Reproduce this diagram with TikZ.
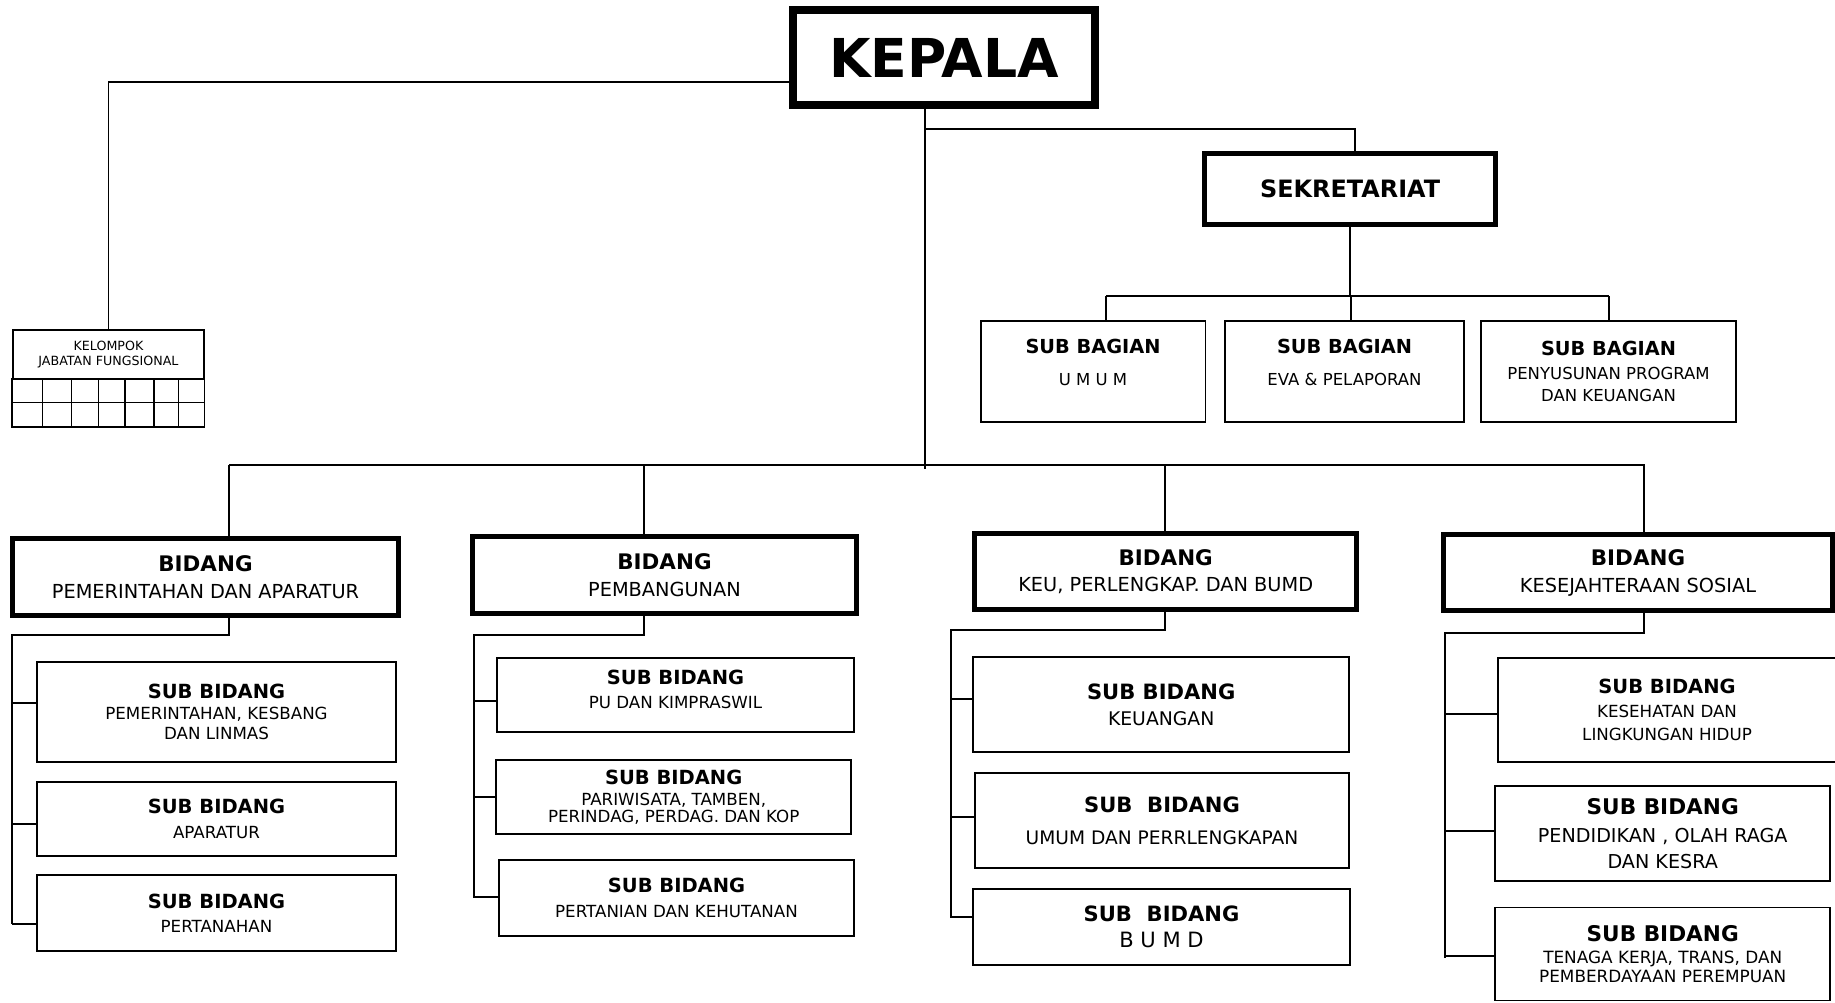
\documentclass[tikz,border=0pt]{standalone}
\usepackage{fontspec}
\setmainfont{DejaVu Sans}
\newcommand\judul[2][11.1]{{\fontsize{#1}{10}\selectfont\bfseries #2}}
\newcommand\ukuran[1]{\fontsize{#1}{10}\selectfont}
\begin{document}
\begin{tikzpicture}[x=0.02cm,y=-0.02cm,
  garis/.style={line width=1.05pt},
  kepalabox/.style={draw,line width=4.5pt,inner sep=0pt,minimum width=6.04cm,minimum height=1.906cm,font=\fontsize{30.5}{36}\selectfont\bfseries},
  sekbox/.style={draw,line width=3pt,inner sep=0pt,minimum width=5.828cm,minimum height=1.426cm,font=\fontsize{13.6}{16}\selectfont\bfseries},
  bidbox/.style={draw,line width=2.85pt,inner sep=0pt,align=center,font=\ukuran{11}},
  subbox/.style={draw,line width=1.1pt,inner sep=0pt,align=center,font=\ukuran{9.5}},
  jfbox/.style={draw,line width=0.9pt,inner sep=0pt,align=center,font=\fontsize{7.2}{8.5}\selectfont}]
\useasboundingbox (0,0) rectangle (1835,1002);
% pimpinan
\node[kepalabox] (kepala) at (944,57.7) {KEPALA};
\node[jfbox,minimum width=3.832cm,minimum height=0.966cm] (jf) at (108.5,354.2) {KELOMPOK\\JABATAN FUNGSIONAL};
\draw[jfbox] (jf.south west) rectangle (204.3,426.7);
\draw[jfbox] (jf.south west |- 0,402.3) -- (jf.south east |- 0,402.3);
\foreach \x in {42.7,71.7,98.3,125,154,178.3}
  \draw[jfbox] (\x,378.3) -- (\x,426.7);
% sekretariat
\node[sekbox] (sek) at (1350.1,189) {SEKRETARIAT};
\node[subbox,font=\ukuran{9.4},minimum width=4.5cm,minimum height=2.02cm,text depth=11pt] (ba1) at (1093,371.7) {\judul[11]{SUB BAGIAN}\\[8.2pt]U M U M};
\node[subbox,font=\ukuran{9.4},minimum width=4.78cm,minimum height=2.02cm,text depth=11pt] (ba2) at (1344.5,371.7) {\judul[11]{SUB BAGIAN}\\[8.2pt]EVA \& PELAPORAN};
\node[subbox,font=\ukuran{9.4},minimum width=5.1cm,minimum height=2.02cm] (ba3) at (1608.5,371.7) {\judul[11]{SUB BAGIAN}\\[3.7pt]PENYUSUNAN PROGRAM\\[2.5pt]DAN KEUANGAN};
% bidang
\node[bidbox,minimum width=7.72cm,minimum height=1.552cm] (b1) at (205.5,577) {\judul[12.2]{BIDANG}\\[5pt]PEMERINTAHAN DAN APARATUR};
\node[bidbox,minimum width=7.68cm,minimum height=1.54cm] (b2) at (664.5,575) {\judul[12.2]{BIDANG}\\[5pt]PEMBANGUNAN};
\node[bidbox,minimum width=7.634cm,minimum height=1.532cm] (b3) at (1165.7,571.5) {\judul[12.2]{BIDANG}\\[5pt]KEU, PERLENGKAP. DAN BUMD};
\node[bidbox,minimum width=7.8cm,minimum height=1.52cm] (b4) at (1638,572.8) {\judul[12.2]{BIDANG}\\[5pt]KESEJAHTERAAN SOSIAL};
% sub bidang
\node[subbox,minimum width=7.18cm,minimum height=2cm] (s11) at (216.5,711.7) {\judul{SUB BIDANG}\\[2.3pt]PEMERINTAHAN, KESBANG\\[1.4pt]DAN LINMAS};
\node[subbox,minimum width=7.18cm,minimum height=1.492cm] (s12) at (216.5,819) {\judul{SUB BIDANG}\\[4.4pt]APARATUR};
\node[subbox,minimum width=7.18cm,minimum height=1.508cm] (s13) at (216.5,913) {\judul{SUB BIDANG}\\[3.8pt]PERTANAHAN};
\node[subbox,minimum width=7.14cm,minimum height=1.492cm,text depth=6.8pt] (s21) at (675.5,695) {\judul{SUB BIDANG}\\[3.7pt]PU DAN KIMPRASWIL};
\node[subbox,minimum width=7.094cm,minimum height=1.486cm] (s22) at (673.7,797.2) {\judul{SUB BIDANG}\\[2pt]PARIWISATA, TAMBEN,\\PERINDAG, PERDAG. DAN KOP};
\node[subbox,minimum width=7.1cm,minimum height=1.508cm] (s23) at (676.5,898) {\judul{SUB BIDANG}\\[4.2pt]PERTANIAN DAN KEHUTANAN};
\node[subbox,font=\ukuran{10.7},minimum width=7.514cm,minimum height=1.894cm] (s31) at (1161.2,704.3) {\judul[12]{SUB BIDANG}\\[4.8pt]KEUANGAN};
\node[subbox,font=\ukuran{10.6},minimum width=7.48cm,minimum height=1.894cm] (s32) at (1162,820.7) {\judul[12]{SUB\ \ BIDANG}\\[8pt]UMUM DAN PERRLENGKAPAN};
\node[subbox,font=\ukuran{12},minimum width=7.528cm,minimum height=1.508cm] (s33) at (1161.5,927) {\judul[12]{SUB\ \ BIDANG}\\[4.8pt]B U M D};
\node[subbox,minimum width=6.78cm,minimum height=2.08cm] (s41) at (1667,709.7) {\judul{SUB BIDANG}\\[3.7pt]KESEHATAN DAN\\[3.3pt]LINGKUNGAN HIDUP};
\node[subbox,font=\ukuran{10.9},minimum width=6.694cm,minimum height=1.906cm] (s42) at (1662.7,833.7) {\judul[12.3]{SUB BIDANG}\\[5.8pt]PENDIDIKAN , OLAH RAGA\\[4.6pt]DAN KESRA};
\node[subbox,font=\ukuran{9.6},minimum width=6.694cm,minimum height=1.86cm] (s43) at (1662.7,954) {\judul[12.3]{SUB BIDANG}\\[2.7pt]TENAGA KERJA, TRANS, DAN\\[0.8pt]PEMBERDAYAAN PEREMPUAN};
% garis
\draw[garis] (kepala.west |- 108.5,82.3) -- (108.5,82.3) -- (jf.north);
\draw[garis] (kepala.south -| 924.6,0) -- (924.6,469);
\draw[garis] (924.6,129) -- (1355,129) -- (sek.north -| 1355,0);
\draw[garis] (sek.south) -- (sek.south |- 0,296);
\draw[garis] (1106,296) -- (1609,296);
\foreach \b/\x in {ba1/1106,ba2/1350.6,ba3/1609}
  \draw[garis] (\x,296) -- (\b.north -| \x,0);
\draw[garis] (229.3,464.6) -- (1645.4,464.6);
\foreach \b/\x in {b1/229.3,b2/644.3,b3/1165,b4/1644.3}
  \draw[garis] (\x,464.6) -- (\b.north -| \x,0);
\foreach \b/\x/\y/\t/\e in {b1/229.3/635/12.3/924.3,b2/644.3/635/474.3/897.7,b3/1165/630/951/918.3,b4/1644.3/633.3/1445/957.7}
  \draw[garis] (\b.south -| \x,0) -- (\x,\y) -- (\t,\y) -- (\t,\e);
\foreach \s/\t/\y in {s11/12.3/702.7,s12/12.3/823.7,s13/12.3/923.7,s21/474.3/701,s22/474.3/796.7,s23/474.3/897,s31/951/699.3,s32/951/816.7,s33/951/916.7,s41/1445/714.3,s42/1445/830.7,s43/1445/955.7}
  \draw[garis] (\t,\y) -- (\s.west |- 0,\y);
\end{tikzpicture}
\end{document}
